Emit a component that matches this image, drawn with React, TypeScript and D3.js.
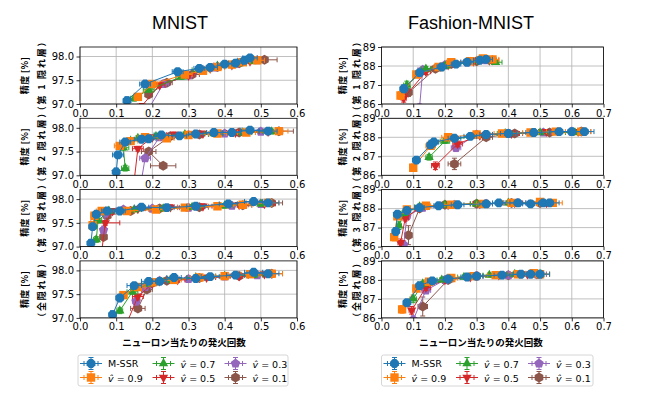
import React, { useEffect, useRef } from "react";
import * as d3 from "d3";

// each point: [firing rate, accuracy, x error, y error]
type Pt = [number, number, number, number];

const seriesLabels = ["M-SSR", "0.9", "0.7", "0.5", "0.3", "0.1"];
const seriesColors = ["#1f77b4", "#ff7f0e", "#2ca02c", "#d62728", "#9467bd", "#8c564b"];
const datasetTitles = ["MNIST", "Fashion-MNIST"];
const layerLabels = ["（第 1 隠れ層）", "（第 2 隠れ層）", "（第 3 隠れ層）", "（全隠れ層）"];
const yLabel = "精度 [%]";
const xLabel = "ニューロン当たりの発火回数";

const mnistXTicks = [0, 0.1, 0.2, 0.3, 0.4, 0.5, 0.6];
const mnistYTicks = [97.0, 97.5, 98.0];
const fashionXTicks = [0, 0.1, 0.2, 0.3, 0.4, 0.5, 0.6, 0.7];
const fashionYTicks = [86, 87, 88, 89];

const mnistLayer1: Pt[][] = [
  [[0.13, 97.07, 0.01, 0.08], [0.18, 97.42, 0.015, 0.06], [0.27, 97.68, 0.015, 0.06], [0.33, 97.75, 0.015, 0.05], [0.36, 97.77, 0.02, 0.05], [0.4, 97.84, 0.02, 0.05], [0.43, 97.86, 0.02, 0.05], [0.455, 97.92, 0.02, 0.05], [0.47, 97.97, 0.02, 0.05]],
  [[0.16, 97.15, 0.01, 0.06], [0.2, 97.42, 0.015, 0.05], [0.29, 97.62, 0.02, 0.05], [0.34, 97.7, 0.02, 0.05], [0.38, 97.78, 0.02, 0.05], [0.42, 97.83, 0.02, 0.05], [0.45, 97.88, 0.02, 0.05], [0.49, 97.92, 0.02, 0.05]],
  [[0.15, 97.12, 0.01, 0.06], [0.19, 97.3, 0.015, 0.05], [0.28, 97.57, 0.015, 0.05], [0.33, 97.72, 0.02, 0.05], [0.38, 97.8, 0.02, 0.05], [0.44, 97.85, 0.02, 0.05], [0.48, 97.9, 0.02, 0.05]],
  [[0.17, 96.95, 0.01, 0.06], [0.22, 97.4, 0.015, 0.05], [0.3, 97.6, 0.015, 0.05], [0.36, 97.75, 0.02, 0.05], [0.42, 97.82, 0.02, 0.05], [0.47, 97.9, 0.02, 0.05]],
  [[0.19, 96.9, 0.01, 0.06], [0.23, 97.42, 0.015, 0.05], [0.3, 97.6, 0.015, 0.05], [0.37, 97.77, 0.02, 0.05], [0.43, 97.85, 0.02, 0.05], [0.49, 97.92, 0.02, 0.05]],
  [[0.19, 97.2, 0.01, 0.05], [0.24, 97.45, 0.015, 0.05], [0.31, 97.62, 0.02, 0.05], [0.38, 97.78, 0.02, 0.05], [0.44, 97.86, 0.02, 0.05], [0.51, 97.93, 0.035, 0.05]],
];

const mnistLayer2: Pt[][] = [
  [[0.1, 97.07, 0.008, 0.08], [0.105, 97.43, 0.015, 0.06], [0.125, 97.7, 0.015, 0.05], [0.17, 97.76, 0.02, 0.05], [0.19, 97.77, 0.02, 0.05], [0.225, 97.85, 0.02, 0.05], [0.275, 97.83, 0.02, 0.05], [0.32, 97.87, 0.02, 0.05], [0.37, 97.9, 0.02, 0.05], [0.42, 97.9, 0.025, 0.05], [0.47, 97.95, 0.025, 0.05], [0.52, 97.93, 0.025, 0.05]],
  [[0.11, 97.62, 0.015, 0.06], [0.14, 97.72, 0.02, 0.05], [0.18, 97.8, 0.02, 0.05], [0.24, 97.78, 0.02, 0.05], [0.3, 97.85, 0.02, 0.05], [0.38, 97.88, 0.025, 0.05], [0.46, 97.9, 0.025, 0.05], [0.55, 97.93, 0.025, 0.05]],
  [[0.125, 97.15, 0.01, 0.06], [0.12, 97.58, 0.015, 0.05], [0.16, 97.78, 0.02, 0.05], [0.21, 97.82, 0.02, 0.05], [0.29, 97.86, 0.02, 0.05], [0.37, 97.88, 0.025, 0.05], [0.45, 97.9, 0.025, 0.05], [0.53, 97.92, 0.025, 0.05]],
  [[0.15, 96.9, 0.01, 0.06], [0.16, 97.56, 0.015, 0.05], [0.2, 97.8, 0.02, 0.05], [0.26, 97.86, 0.02, 0.05], [0.34, 97.88, 0.025, 0.05], [0.43, 97.9, 0.025, 0.05], [0.52, 97.92, 0.025, 0.05]],
  [[0.17, 96.9, 0.01, 0.06], [0.18, 97.36, 0.015, 0.06], [0.22, 97.8, 0.02, 0.05], [0.3, 97.85, 0.02, 0.05], [0.4, 97.88, 0.025, 0.05], [0.5, 97.92, 0.025, 0.05]],
  [[0.23, 97.2, 0.035, 0.05], [0.19, 97.5, 0.02, 0.05], [0.25, 97.82, 0.02, 0.05], [0.33, 97.86, 0.025, 0.05], [0.44, 97.9, 0.025, 0.05], [0.55, 97.93, 0.04, 0.05]],
];

const mnistLayer3: Pt[][] = [
  [[0.03, 97.07, 0.005, 0.08], [0.035, 97.42, 0.008, 0.06], [0.045, 97.68, 0.01, 0.05], [0.075, 97.75, 0.015, 0.05], [0.11, 97.75, 0.015, 0.05], [0.17, 97.83, 0.02, 0.05], [0.24, 97.82, 0.02, 0.05], [0.32, 97.85, 0.025, 0.05], [0.41, 97.9, 0.025, 0.05], [0.48, 97.95, 0.025, 0.05], [0.52, 97.92, 0.03, 0.05]],
  [[0.035, 97.45, 0.008, 0.06], [0.04, 97.65, 0.01, 0.05], [0.06, 97.75, 0.015, 0.05], [0.13, 97.75, 0.02, 0.05], [0.21, 97.78, 0.02, 0.05], [0.29, 97.82, 0.02, 0.05], [0.38, 97.85, 0.025, 0.05], [0.45, 97.88, 0.025, 0.05], [0.52, 97.92, 0.03, 0.05]],
  [[0.045, 97.15, 0.008, 0.06], [0.05, 97.55, 0.01, 0.05], [0.08, 97.75, 0.015, 0.05], [0.15, 97.78, 0.02, 0.05], [0.23, 97.8, 0.02, 0.05], [0.31, 97.83, 0.025, 0.05], [0.4, 97.86, 0.025, 0.05], [0.5, 97.9, 0.03, 0.05]],
  [[0.06, 96.9, 0.008, 0.06], [0.07, 97.5, 0.04, 0.05], [0.09, 97.75, 0.015, 0.05], [0.16, 97.8, 0.02, 0.05], [0.25, 97.83, 0.02, 0.05], [0.34, 97.85, 0.025, 0.05], [0.44, 97.88, 0.025, 0.05], [0.51, 97.9, 0.03, 0.05]],
  [[0.065, 97.35, 0.008, 0.08], [0.07, 97.7, 0.01, 0.05], [0.12, 97.78, 0.02, 0.05], [0.2, 97.8, 0.02, 0.05], [0.3, 97.82, 0.025, 0.05], [0.42, 97.86, 0.025, 0.05], [0.5, 97.9, 0.03, 0.05]],
  [[0.065, 97.2, 0.008, 0.05], [0.075, 97.65, 0.01, 0.05], [0.14, 97.75, 0.02, 0.05], [0.22, 97.8, 0.02, 0.05], [0.33, 97.83, 0.025, 0.05], [0.45, 97.87, 0.025, 0.05], [0.53, 97.92, 0.03, 0.05]],
];

const mnistLayerAll: Pt[][] = [
  [[0.09, 97.07, 0.008, 0.08], [0.11, 97.42, 0.01, 0.06], [0.15, 97.68, 0.02, 0.05], [0.19, 97.77, 0.02, 0.05], [0.22, 97.77, 0.02, 0.05], [0.26, 97.85, 0.02, 0.05], [0.32, 97.83, 0.025, 0.05], [0.36, 97.87, 0.025, 0.05], [0.43, 97.9, 0.025, 0.05], [0.48, 97.96, 0.025, 0.05], [0.52, 97.93, 0.03, 0.05]],
  [[0.12, 97.48, 0.01, 0.06], [0.16, 97.65, 0.02, 0.05], [0.2, 97.75, 0.02, 0.05], [0.26, 97.8, 0.02, 0.05], [0.33, 97.85, 0.025, 0.05], [0.4, 97.88, 0.025, 0.05], [0.47, 97.92, 0.025, 0.05], [0.53, 97.93, 0.03, 0.05]],
  [[0.11, 97.15, 0.008, 0.06], [0.145, 97.55, 0.015, 0.05], [0.19, 97.72, 0.02, 0.05], [0.25, 97.8, 0.02, 0.05], [0.32, 97.85, 0.025, 0.05], [0.4, 97.88, 0.025, 0.05], [0.48, 97.9, 0.025, 0.05]],
  [[0.13, 96.9, 0.01, 0.06], [0.16, 97.45, 0.015, 0.05], [0.2, 97.72, 0.02, 0.05], [0.27, 97.8, 0.02, 0.05], [0.35, 97.85, 0.025, 0.05], [0.44, 97.88, 0.025, 0.05], [0.51, 97.92, 0.03, 0.05]],
  [[0.155, 97.35, 0.01, 0.08], [0.18, 97.65, 0.015, 0.05], [0.22, 97.78, 0.02, 0.05], [0.3, 97.82, 0.025, 0.05], [0.4, 97.87, 0.025, 0.05], [0.49, 97.9, 0.03, 0.05]],
  [[0.16, 97.2, 0.02, 0.05], [0.185, 97.6, 0.015, 0.05], [0.24, 97.78, 0.02, 0.05], [0.33, 97.84, 0.025, 0.05], [0.44, 97.88, 0.025, 0.05], [0.53, 97.93, 0.03, 0.05]],
];

const fashionLayer1: Pt[][] = [
  [[0.07, 86.8, 0.008, 0.2], [0.12, 87.65, 0.01, 0.15], [0.19, 87.95, 0.015, 0.1], [0.235, 88.1, 0.015, 0.1], [0.27, 88.2, 0.02, 0.1], [0.31, 88.3, 0.02, 0.1], [0.33, 88.35, 0.02, 0.1]],
  [[0.06, 86.45, 0.008, 0.2], [0.11, 87.55, 0.01, 0.15], [0.18, 87.95, 0.015, 0.1], [0.22, 88.2, 0.015, 0.1], [0.28, 88.25, 0.02, 0.1], [0.32, 88.4, 0.02, 0.15], [0.35, 88.35, 0.02, 0.1]],
  [[0.08, 87.0, 0.01, 0.2], [0.14, 87.85, 0.015, 0.12], [0.2, 88.0, 0.015, 0.1], [0.28, 88.2, 0.02, 0.1], [0.36, 88.2, 0.02, 0.1]],
  [[0.07, 86.3, 0.008, 0.2], [0.14, 87.7, 0.015, 0.15], [0.21, 88.05, 0.015, 0.1], [0.29, 88.25, 0.02, 0.1], [0.34, 88.3, 0.02, 0.1]],
  [[0.12, 85.8, 0.01, 0.2], [0.13, 87.8, 0.015, 0.12], [0.2, 88.05, 0.015, 0.1], [0.27, 88.2, 0.02, 0.1], [0.33, 88.3, 0.02, 0.1]],
  [[0.085, 86.6, 0.01, 0.2], [0.17, 87.85, 0.015, 0.12], [0.22, 88.1, 0.015, 0.1], [0.3, 88.25, 0.02, 0.1], [0.35, 88.3, 0.02, 0.1]],
];

const fashionLayer2: Pt[][] = [
  [[0.11, 86.8, 0.01, 0.15], [0.155, 87.6, 0.01, 0.15], [0.165, 87.75, 0.015, 0.12], [0.23, 87.95, 0.02, 0.1], [0.28, 88.05, 0.02, 0.1], [0.33, 88.15, 0.02, 0.1], [0.4, 88.2, 0.025, 0.1], [0.48, 88.25, 0.025, 0.1], [0.56, 88.3, 0.03, 0.1], [0.6, 88.3, 0.03, 0.1], [0.64, 88.3, 0.03, 0.1]],
  [[0.1, 86.4, 0.01, 0.2], [0.155, 87.55, 0.015, 0.15], [0.21, 88.0, 0.02, 0.1], [0.3, 88.15, 0.02, 0.1], [0.38, 88.2, 0.025, 0.1], [0.47, 88.25, 0.025, 0.1], [0.55, 88.3, 0.03, 0.1], [0.63, 88.3, 0.03, 0.1]],
  [[0.15, 86.95, 0.01, 0.15], [0.2, 87.8, 0.015, 0.12], [0.3, 88.1, 0.02, 0.1], [0.39, 88.2, 0.025, 0.1], [0.5, 88.25, 0.025, 0.1], [0.61, 88.25, 0.03, 0.1]],
  [[0.17, 86.5, 0.012, 0.2], [0.24, 87.65, 0.015, 0.15], [0.31, 88.1, 0.02, 0.1], [0.41, 88.2, 0.025, 0.1], [0.52, 88.3, 0.025, 0.1], [0.62, 88.3, 0.03, 0.1]],
  [[0.235, 87.45, 0.015, 0.2], [0.3, 88.15, 0.02, 0.1], [0.4, 88.2, 0.025, 0.1], [0.51, 88.25, 0.025, 0.1], [0.6, 88.3, 0.03, 0.1]],
  [[0.23, 86.6, 0.02, 0.3], [0.33, 88.0, 0.02, 0.1], [0.42, 88.2, 0.025, 0.1], [0.53, 88.25, 0.025, 0.1], [0.63, 88.3, 0.03, 0.1]],
];

const fashionLayer3: Pt[][] = [
  [[0.045, 86.8, 0.005, 0.2], [0.05, 87.7, 0.008, 0.15], [0.08, 87.9, 0.01, 0.1], [0.12, 88.05, 0.015, 0.1], [0.18, 88.15, 0.015, 0.1], [0.24, 88.2, 0.02, 0.1], [0.33, 88.25, 0.02, 0.1], [0.37, 88.3, 0.02, 0.1], [0.43, 88.3, 0.025, 0.1], [0.47, 88.25, 0.025, 0.1], [0.51, 88.3, 0.03, 0.1], [0.53, 88.3, 0.03, 0.1]],
  [[0.04, 86.5, 0.005, 0.2], [0.05, 87.6, 0.008, 0.15], [0.08, 87.95, 0.01, 0.1], [0.14, 88.15, 0.015, 0.1], [0.22, 88.2, 0.02, 0.1], [0.32, 88.25, 0.02, 0.1], [0.41, 88.3, 0.025, 0.1], [0.5, 88.35, 0.03, 0.1], [0.54, 88.3, 0.03, 0.1]],
  [[0.055, 87.1, 0.008, 0.2], [0.07, 87.75, 0.01, 0.12], [0.12, 88.1, 0.015, 0.1], [0.2, 88.2, 0.02, 0.1], [0.3, 88.25, 0.02, 0.1], [0.4, 88.3, 0.025, 0.1], [0.5, 88.3, 0.03, 0.1]],
  [[0.06, 86.2, 0.008, 0.2], [0.075, 87.5, 0.01, 0.15], [0.12, 88.05, 0.015, 0.1], [0.21, 88.2, 0.02, 0.1], [0.31, 88.25, 0.02, 0.1], [0.42, 88.3, 0.025, 0.1], [0.52, 88.3, 0.03, 0.1]],
  [[0.07, 86.1, 0.008, 0.2], [0.08, 87.6, 0.01, 0.15], [0.13, 88.05, 0.015, 0.1], [0.23, 88.2, 0.02, 0.1], [0.33, 88.25, 0.02, 0.1], [0.43, 88.3, 0.025, 0.1]],
  [[0.085, 86.6, 0.01, 0.5], [0.12, 88.0, 0.015, 0.1], [0.2, 88.2, 0.02, 0.1], [0.3, 88.25, 0.02, 0.1], [0.41, 88.3, 0.025, 0.1], [0.5, 88.3, 0.03, 0.1]],
];

const fashionLayerAll: Pt[][] = [
  [[0.08, 86.8, 0.008, 0.15], [0.12, 87.7, 0.01, 0.15], [0.16, 87.95, 0.015, 0.1], [0.21, 88.05, 0.015, 0.1], [0.27, 88.15, 0.02, 0.1], [0.3, 88.2, 0.02, 0.1], [0.38, 88.25, 0.025, 0.1], [0.44, 88.3, 0.025, 0.1], [0.47, 88.3, 0.025, 0.1], [0.5, 88.3, 0.03, 0.1]],
  [[0.065, 86.45, 0.008, 0.2], [0.11, 87.55, 0.01, 0.15], [0.15, 87.9, 0.015, 0.1], [0.22, 88.1, 0.02, 0.1], [0.29, 88.2, 0.02, 0.1], [0.36, 88.25, 0.025, 0.1], [0.43, 88.3, 0.025, 0.1], [0.48, 88.35, 0.025, 0.1], [0.5, 88.3, 0.03, 0.15]],
  [[0.1, 87.0, 0.01, 0.2], [0.13, 87.8, 0.015, 0.12], [0.19, 88.0, 0.015, 0.1], [0.26, 88.15, 0.02, 0.1], [0.34, 88.25, 0.02, 0.1], [0.42, 88.3, 0.025, 0.1], [0.5, 88.3, 0.03, 0.15]],
  [[0.095, 86.4, 0.008, 0.2], [0.14, 87.6, 0.015, 0.15], [0.2, 88.0, 0.015, 0.1], [0.28, 88.15, 0.02, 0.1], [0.37, 88.25, 0.025, 0.1], [0.46, 88.3, 0.025, 0.1]],
  [[0.1, 85.9, 0.008, 0.2], [0.14, 87.45, 0.015, 0.15], [0.2, 88.0, 0.015, 0.1], [0.3, 88.2, 0.02, 0.1], [0.4, 88.25, 0.025, 0.1], [0.49, 88.3, 0.03, 0.1]],
  [[0.13, 86.6, 0.015, 0.5], [0.21, 88.0, 0.015, 0.1], [0.3, 88.2, 0.02, 0.1], [0.4, 88.25, 0.025, 0.1], [0.49, 88.3, 0.03, 0.1]],
];

const mnistPanels = [mnistLayer1, mnistLayer2, mnistLayer3, mnistLayerAll];
const fashionPanels = [fashionLayer1, fashionLayer2, fashionLayer3, fashionLayerAll];

const TICK_FONT = "DejaVu Sans, sans-serif";
const JP_FONT = "'Noto Sans CJK JP', sans-serif";

// regular polygon marker, pointing up
function polygon(n: number, r: number, rot = 0) {
  const pts: [number, number][] = d3.range(n).map((i) => {
    const a = rot - Math.PI / 2 + (i * 2 * Math.PI) / n;
    return [r * Math.cos(a), r * Math.sin(a)];
  });
  return "M" + pts.map((p) => p.join(",")).join("L") + "Z";
}

const markerPaths = [
  polygon(8, 4.8, Math.PI / 8),
  "M-4.2,-4.2L4.2,-4.2L4.2,4.2L-4.2,4.2Z",
  polygon(3, 5.4),
  polygon(3, 5.4, Math.PI),
  polygon(5, 5),
  polygon(6, 5),
];

const App: React.FC = () => {
  const svgRef = useRef<SVGSVGElement | null>(null);

  useEffect(() => {
    if (!svgRef.current) return;
    const svg = d3.select(svgRef.current);
    svg.selectAll("*").remove();

    const width = 666;
    const height = 395;
    svg.attr("width", width).attr("height", height);

    const rowTop = 47;
    const rowStep = 71.3;
    const panelH = 57;
    const columns = [
      { left: 80, right: 297, xTicks: mnistXTicks, yTicks: mnistYTicks, yDomain: [97.0, 98.2], yFmt: d3.format(".1f"), panels: mnistPanels, titleX: 180, labelX: [24, 41], xLabelX: 184, legendX: 78, legendW: 210 },
      { left: 381.5, right: 603.5, xTicks: fashionXTicks, yTicks: fashionYTicks, yDomain: [86, 89], yFmt: d3.format("d"), panels: fashionPanels, titleX: 471, labelX: [342, 356], xLabelX: 481, legendX: 381.5, legendW: 211.5 },
    ];

    const lineGen = d3.line<Pt>();

    columns.forEach((col, ci) => {
      const x = d3
        .scaleLinear()
        .domain([col.xTicks[0], col.xTicks[col.xTicks.length - 1]])
        .range([col.left, col.right]);

      svg
        .append("text")
        .attr("x", col.titleX)
        .attr("y", 29)
        .attr("text-anchor", "middle")
        .style("font-family", "Liberation Sans, Arial, sans-serif")
        .style("font-size", "18px")
        .text(datasetTitles[ci]);

      col.panels.forEach((series, pi) => {
        const top = rowTop + pi * rowStep;
        const y = d3.scaleLinear().domain(col.yDomain).range([top + panelH, top]);

        const g = svg.append("g");
        const clipId = `clip-${ci}-${pi}`;
        svg
          .append("clipPath")
          .attr("id", clipId)
          .append("rect")
          .attr("x", col.left)
          .attr("y", top)
          .attr("width", col.right - col.left)
          .attr("height", panelH);

        // grid
        g.selectAll(".gx")
          .data(col.xTicks)
          .join("line")
          .attr("x1", (d) => x(d))
          .attr("x2", (d) => x(d))
          .attr("y1", top)
          .attr("y2", top + panelH)
          .attr("stroke", "#b0b0b0")
          .attr("stroke-width", 0.8);
        g.selectAll(".gy")
          .data(col.yTicks)
          .join("line")
          .attr("x1", col.left)
          .attr("x2", col.right)
          .attr("y1", (d) => y(d))
          .attr("y2", (d) => y(d))
          .attr("stroke", "#b0b0b0")
          .attr("stroke-width", 0.8);

        // data, M-SSR drawn last so it sits on top
        const plot = g.append("g").attr("clip-path", `url(#${clipId})`);
        for (let si = series.length - 1; si >= 0; si--) {
          const pts = series[si];
          const color = seriesColors[si];
          const sg = plot.append("g");
          sg.append("path")
            .attr("d", lineGen.x((d) => x(d[0])).y((d) => y(d[1]))(pts))
            .attr("fill", "none")
            .attr("stroke", color)
            .attr("stroke-width", 1);
          const eb = sg.append("g").attr("stroke", color).attr("stroke-width", 1);
          pts.forEach((p) => {
            const px = x(p[0]);
            const py = y(p[1]);
            const x0 = x(p[0] - p[2]);
            const x1 = x(p[0] + p[2]);
            const y0 = y(p[1] - p[3]);
            const y1 = y(p[1] + p[3]);
            eb.append("line").attr("x1", x0).attr("x2", x1).attr("y1", py).attr("y2", py);
            eb.append("line").attr("x1", px).attr("x2", px).attr("y1", y0).attr("y2", y1);
            [x0, x1].forEach((cx) =>
              eb.append("line").attr("x1", cx).attr("x2", cx).attr("y1", py - 2.5).attr("y2", py + 2.5)
            );
            [y0, y1].forEach((cy) =>
              eb.append("line").attr("x1", px - 2.5).attr("x2", px + 2.5).attr("y1", cy).attr("y2", cy)
            );
          });
          sg.selectAll(".m")
            .data(pts)
            .join("path")
            .attr("d", markerPaths[si])
            .attr("transform", (d) => `translate(${x(d[0])},${y(d[1])})`)
            .attr("fill", color);
        }

        // axes
        const xAxis = g
          .append("g")
          .attr("transform", `translate(0,${top + panelH})`)
          .call(d3.axisBottom(x).tickValues(col.xTicks).tickFormat(d3.format(".1f")).tickSize(3.5).tickPadding(2));
        const yAxis = g
          .append("g")
          .attr("transform", `translate(${col.left},0)`)
          .call(d3.axisLeft(y).tickValues(col.yTicks).tickFormat(col.yFmt as any).tickSize(3.5).tickPadding(2.5));
        [xAxis, yAxis].forEach((ax) => {
          ax.select(".domain").remove();
          ax.selectAll("text").style("font-family", TICK_FONT).style("font-size", "10px").attr("fill", "#000");
          ax.selectAll("line").attr("stroke", "#000").attr("stroke-width", 0.8);
        });

        g.append("rect")
          .attr("x", col.left)
          .attr("y", top)
          .attr("width", col.right - col.left)
          .attr("height", panelH)
          .attr("fill", "none")
          .attr("stroke", "#000")
          .attr("stroke-width", 0.8);

        const cy = top + panelH / 2;
        [yLabel, layerLabels[pi]].forEach((t, li) => {
          g.append("text")
            .attr("transform", `translate(${col.labelX[li]},${cy}) rotate(-90)`)
            .attr("text-anchor", "middle")
            .attr("dominant-baseline", "central")
            .style("font-family", JP_FONT)
            .style("font-size", "9px")
            .style("font-weight", 600)
            .style("letter-spacing", li === 1 ? "1.8px" : "0.3px")
            .text(t);
        });
      });

      svg
        .append("text")
        .attr("x", col.xLabelX)
        .attr("y", 346)
        .attr("text-anchor", "middle")
        .style("font-family", JP_FONT)
        .style("font-size", "9.5px")
        .style("font-weight", 600)
        .text(xLabel);

      // legend
      const lg = svg.append("g").attr("transform", `translate(${col.legendX},355)`);
      lg.append("rect")
        .attr("width", col.legendW)
        .attr("height", 31)
        .attr("rx", 2)
        .attr("fill", "#fff")
        .attr("stroke", "#cccccc")
        .attr("stroke-width", 0.8);
      const colCenters = [13, 85.5, 157.5];
      seriesLabels.forEach((lab, si) => {
        const cx = colCenters[Math.floor(si / 2)];
        const cy = si % 2 === 0 ? 8.5 : 22.5;
        const color = seriesColors[si];
        const h = lg.append("g").attr("stroke", color).attr("stroke-width", 1);
        h.append("line").attr("x1", cx - 11).attr("x2", cx + 11).attr("y1", cy).attr("y2", cy);
        h.append("line").attr("x1", cx).attr("x2", cx).attr("y1", cy - 6).attr("y2", cy + 6);
        [cx - 7, cx + 7].forEach((ex) =>
          h.append("line").attr("x1", ex).attr("x2", ex).attr("y1", cy - 2.5).attr("y2", cy + 2.5)
        );
        [cy - 6, cy + 6].forEach((ey) =>
          h.append("line").attr("x1", cx - 2.5).attr("x2", cx + 2.5).attr("y1", ey).attr("y2", ey)
        );
        lg.append("path")
          .attr("d", markerPaths[si])
          .attr("transform", `translate(${cx},${cy})`)
          .attr("fill", color);
        const t = lg
          .append("text")
          .attr("x", cx + 17)
          .attr("y", cy)
          .attr("dominant-baseline", "central")
          .style("font-family", TICK_FONT)
          .style("font-size", "9.5px");
        if (si === 0) {
          t.text(lab);
        } else {
          t.append("tspan").style("font-style", "italic").text("v\u0302");
          t.append("tspan").text(` = ${lab}`);
        }
      });
    });
  }, []);

  return (
    <svg
      ref={svgRef}
      style={{ position: "absolute", left: 0, top: 0, display: "block" }}
    ></svg>
  );
};

export default App;
